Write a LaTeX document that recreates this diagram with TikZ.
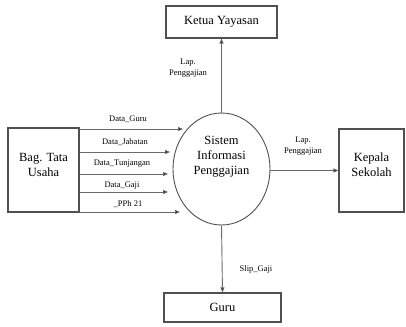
\documentclass[tikz,border=0pt]{standalone}
\usepackage{fontspec}
\setmainfont{Liberation Serif}
\usetikzlibrary{arrows.meta,shapes.geometric}
\definecolor{edge}{HTML}{505050}
\definecolor{flow}{HTML}{6A6A6A}
\tikzset{
  entity/.style={draw=edge, line width=1.1pt, inner sep=0pt,
    font=\fontsize{12.5}{15}\selectfont},
  procnode/.style={draw=edge, line width=0.9pt, ellipse, inner sep=0pt,
    minimum width=97pt, minimum height=112pt},
  boxtext/.style={font=\fontsize{12.5}{15}\selectfont, align=center},
  flowlabel/.style={font=\fontsize{8.5}{11}\selectfont, align=center, inner sep=0pt},
  flowline/.style={draw=flow, line width=0.9pt,
    -{Triangle[length=5pt,width=4pt,fill=black]}},
}
\begin{document}
\begin{tikzpicture}[x=1pt,y=-1pt]
  \useasboundingbox (0,0) rectangle (406,326);

  % external entities
  \node[entity, minimum width=111pt, minimum height=32pt] (ketua) at (221.5,22)
    {Ketua Yayasan};
  \node[entity, minimum width=117pt, minimum height=29pt] (guru) at (222.5,307.5)
    {Guru};
  \node[entity, minimum width=65pt, minimum height=83pt,
    label={[boxtext, yshift=6pt]center:Kepala\\Sekolah}] (kepala) at (371.5,170.5) {};
  \node[entity, minimum width=71pt, minimum height=84pt,
    label={[boxtext, yshift=5pt]center:Bag. Tata\\Usaha}] (bag) at (43.5,170) {};

  % process
  \node[procnode, label={[boxtext, yshift=12pt]center:Sistem\\Informasi\\Penggajian}]
    (sis) at (221.5,169) {};

  % ends of the incoming data flows
  \coordinate (inGuru) at (183,129);
  \coordinate (inJab)  at (170,152);
  \coordinate (inTun)  at (168,174);
  \coordinate (inGaji) at (168,192);
  \coordinate (inPph)  at (180,212);

  \draw[flowline] (bag.east |- inGuru) -- (inGuru);
  \draw[flowline] (bag.east |- inJab)  -- (inJab);
  \draw[flowline] (bag.east |- inTun)  -- (inTun);
  \draw[flowline] (bag.east |- inGaji) -- (inGaji);
  \draw[flowline] (bag.east |- inPph)  -- (inPph);

  \node[flowlabel] (lGuru) at (128,119) {Data\_Guru};
  \node[flowlabel] (lJab)  at (125,142) {Data\_Jabatan};
  \node[flowlabel] (lTun)  at (122,164) {Data\_Tunjangan};
  \node[flowlabel] (lGaji) at (122,186) {Data\_Gaji};
  \node[flowlabel] (lPph)  at (128,204) {\_PPh 21};

  % outgoing flows
  \draw[flowline] (sis.north) -- (ketua.south);
  \draw[flowline] (sis.east |- kepala.west) -- (kepala.west);
  \draw[flowline] (sis.south) -- (guru.north);

  \node[flowlabel] (lKetua)  at (188,68)  {Lap.\\Penggajian};
  \node[flowlabel] (lKepala) at (303,146) {Lap.\\Penggajian};
  \node[flowlabel] (lSlip)   at (256,269) {Slip\_Gaji};
\end{tikzpicture}
\end{document}
